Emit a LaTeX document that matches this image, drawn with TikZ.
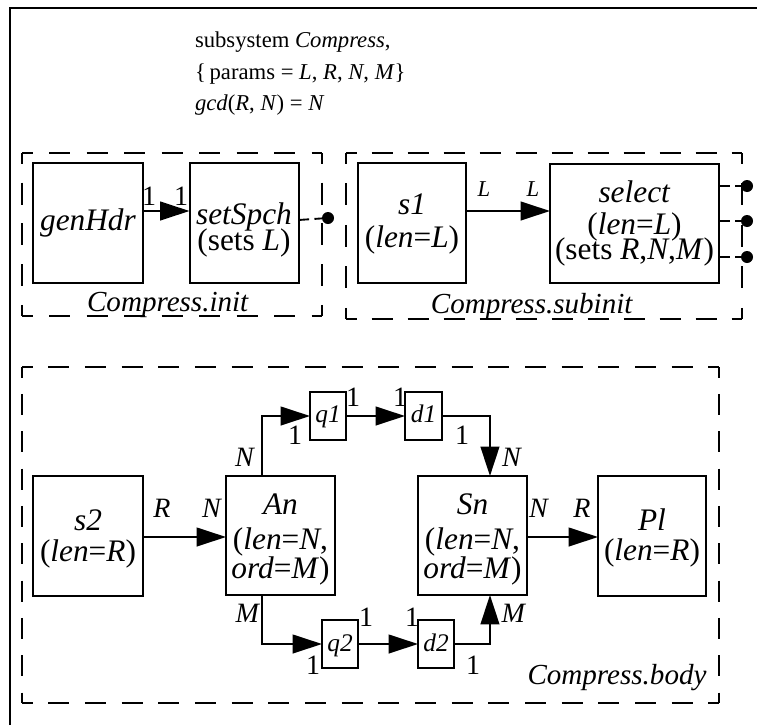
\documentclass[tikz,border=0pt]{standalone}
\usepackage{fontspec}
\setmainfont{Liberation Serif}
\usetikzlibrary{arrows.meta}
\begin{document}
\begin{tikzpicture}[x=0.75pt,y=-0.75pt,
  every node/.style={inner sep=0pt,outer sep=0pt},
  blk/.style={draw,line width=1.5pt,minimum width=82pt,minimum height=90pt},
  sblk/.style={draw,line width=1.5pt,minimum width=27pt,minimum height=36pt},
  side/.style 2 args={line width=1.4pt,dash pattern=on #1 off #2,dash phase=0.5*#1},
  dotline/.style={line width=1.4pt,dash pattern=on 8pt off 4pt},
  port/.style={circle,fill=black,minimum size=9pt},
  arr/.style={line width=1.5pt,-{Triangle[length=22pt,width=14pt]}},
  bt/.style={anchor=base,font=\fontsize{23.5}{24}\selectfont},
  ct/.style={anchor=base,font=\fontsize{21.8}{22}\selectfont},
  st/.style={anchor=base,font=\fontsize{19}{19}\selectfont},
  tt/.style={anchor=base west,font=\fontsize{17}{17}\selectfont},
  pl/.style={font=\fontsize{21}{21}\selectfont},
  ll/.style={font=\fontsize{17}{17}\selectfont}]
\useasboundingbox (0,0) rectangle (757,725);
% outer frame
\draw[line width=2.2pt] (10,725) -- (10,8) -- (757,8);
% title
\node[tt] (t1) at (195,47) {subsystem \textit{Compress},};
\node[tt] (t2) at (195,79) {\{\,params = \textit{L}, \textit{R}, \textit{N}, \textit{M}\}};
\node[tt] (t3) at (195,110) {\textit{gcd}(\textit{R}, \textit{N}) = \textit{N}};
% container: Compress.init (22,153)-(322,316)
\draw[side={15.75pt}{12.375pt}] (22,153) -- (322,153);
\draw[side={15.75pt}{12.375pt}] (22,316) -- (322,316);
\draw[side={16.5pt}{14.06pt}] (22,153) -- (22,316);
\draw[side={16.5pt}{14.06pt}] (322,153) -- (322,316);
% container: Compress.subinit (346,153)-(742,319)
\draw[side={15.75pt}{11.25pt}] (346,153) -- (742,153);
\draw[side={15.75pt}{11.25pt}] (346,319) -- (742,319);
\draw[side={16.5pt}{14.62pt}] (346,153) -- (346,319);
\draw[side={16.5pt}{14.62pt}] (742,153) -- (742,319);
% container: Compress.body (22,367)-(719,703)
\draw[side={15.75pt}{11.76pt}] (22,367) -- (719,367);
\draw[side={15.75pt}{11.76pt}] (22,703) -- (719,703);
\draw[side={15.75pt}{12.25pt}] (22,367) -- (22,703);
\draw[side={15.75pt}{12.25pt}] (719,367) -- (719,703);
\node[ct] (initL) at (168,311) {\textit{Compress.init}};
\node[ct] (subinitL) at (532,313) {\textit{Compress.subinit}};
\node[ct] (bodyL) at (617,684) {\textit{Compress.body}};
% blocks
\node[blk,minimum width=82.5pt] (genHdr) at (88,223) {};
\node[blk,minimum width=81.75pt] (setSpch) at (244,223) {};
\node[blk,minimum width=81pt] (s1) at (412,223) {};
\node[blk,minimum width=126.75pt,minimum height=89.25pt] (select) at (634.5,223.5) {};
\node[blk,minimum width=82.5pt] (s2) at (88,536) {};
\node[blk,minimum width=81.75pt,minimum height=89.25pt] (An) at (280.5,535.5) {};
\node[blk,minimum width=81.75pt,minimum height=89.25pt] (Sn) at (472.5,535.5) {};
\node[blk,minimum width=81pt] (Pl) at (652,536) {};
\node[sblk] (q1) at (328,416) {};
\node[sblk,minimum width=27.75pt] (d1) at (423.5,416) {};
\node[sblk] (q2) at (340,644) {};
\node[sblk] (d2) at (436,644) {};
% block texts
\node[bt] (genHdrT) at (88,230) {\textit{genHdr}};
\node[bt] (setSpchT1) at (244,224) {\textit{setSpch}};
\node[bt] (setSpchT2) at (244,250) {(sets \textit{L})};
\node[bt] (s1T1) at (412,214) {\textit{s1}};
\node[bt] (s1T2) at (412,247) {(\textit{len}=\textit{L})};
\node[bt] (selT1) at (634.5,202) {\textit{select}};
\node[bt] (selT2) at (634.5,234) {(\textit{len}=\textit{L})};
\node[bt] (selT3) at (634.5,259) {(sets \textit{R},\textit{N},\textit{M})};
\node[bt] (s2T1) at (88,530) {\textit{s2}};
\node[bt] (s2T2) at (88,561) {(\textit{len}=\textit{R})};
\node[bt] (AnT1) at (280.5,514) {\textit{An}};
\node[bt] (AnT2) at (280.5,549) {(\textit{len}=\textit{N},};
\node[bt] (AnT3) at (280.5,578) {\textit{ord}=\textit{M})};
\node[bt] (SnT1) at (472.5,514) {\textit{Sn}};
\node[bt] (SnT2) at (472.5,549) {(\textit{len}=\textit{N},};
\node[bt] (SnT3) at (472.5,578) {\textit{ord}=\textit{M})};
\node[bt] (PlT1) at (652,530) {\textit{Pl}};
\node[bt] (PlT2) at (652,560) {(\textit{len}=\textit{R})};
\node[st] (q1T) at (328,422) {\textit{q1}};
\node[st] (d1T) at (423.5,422) {\textit{d1}};
\node[st] (q2T) at (340,651) {\textit{q2}};
\node[st] (d2T) at (436,651) {\textit{d2}};
% ports
\node[port] (pA) at (328,218) {};
\node[port] (pB) at (747,186) {};
\node[port] (pC) at (747,221) {};
\node[port] (pD) at (747,257) {};
\draw[dotline] (setSpch.east |- 0,220) -- (pA);
\draw[dotline] (select.east |- pB) -- (pB);
\draw[dotline] (select.east |- pC) -- (pC);
\draw[dotline] (select.east |- pD) -- (pD);
% connectors
\draw[arr] (genHdr.east |- 0,211) -- (setSpch.west |- 0,211);
\draw[arr] (s1.east |- 0,211) -- (select.west |- 0,211);
\draw[arr] (s2.east |- 0,537) -- (An.west |- 0,537);
\draw[arr] (Sn.east |- 0,537) -- (Pl.west |- 0,537);
\draw[arr] ([xshift=-13.9pt]An.north) |- (q1.west);
\draw[arr] (q1) -- (d1);
\draw[arr] (d1.east) -| ([xshift=13.1pt]Sn.north);
\draw[arr] ([xshift=-13.9pt]An.south) |- (q2.west);
\draw[arr] (q2) -- (d2);
\draw[arr] (d2.east) -| ([xshift=13.1pt]Sn.south);
% port labels
\node[pl] (a1) at (149,196) {1};
\node[pl] (a2) at (181,196) {1};
\node[ll] (b1) at (484,189) {\textit{L}};
\node[ll] (b2) at (533,189) {\textit{L}};
\node[pl] (c1) at (162,508) {\textit{R}};
\node[pl] (c2) at (212,508) {\textit{N}};
\node[pl] (c3) at (539,508) {\textit{N}};
\node[pl] (c4) at (582,508) {\textit{R}};
\node[pl] (u1) at (245,457) {\textit{N}};
\node[pl] (u2) at (295,435) {1};
\node[pl] (u3) at (353,397) {1};
\node[pl] (u4) at (400,397) {1};
\node[pl] (u5) at (462,435) {1};
\node[pl] (u6) at (512,457) {\textit{N}};
\node[pl] (v1) at (248,613) {\textit{M}};
\node[pl] (v2) at (313,665) {1};
\node[pl] (v3) at (366,617) {1};
\node[pl] (v4) at (412,617) {1};
\node[pl] (v5) at (473,665) {1};
\node[pl] (v6) at (514,613) {\textit{M}};
\end{tikzpicture}
\end{document}
